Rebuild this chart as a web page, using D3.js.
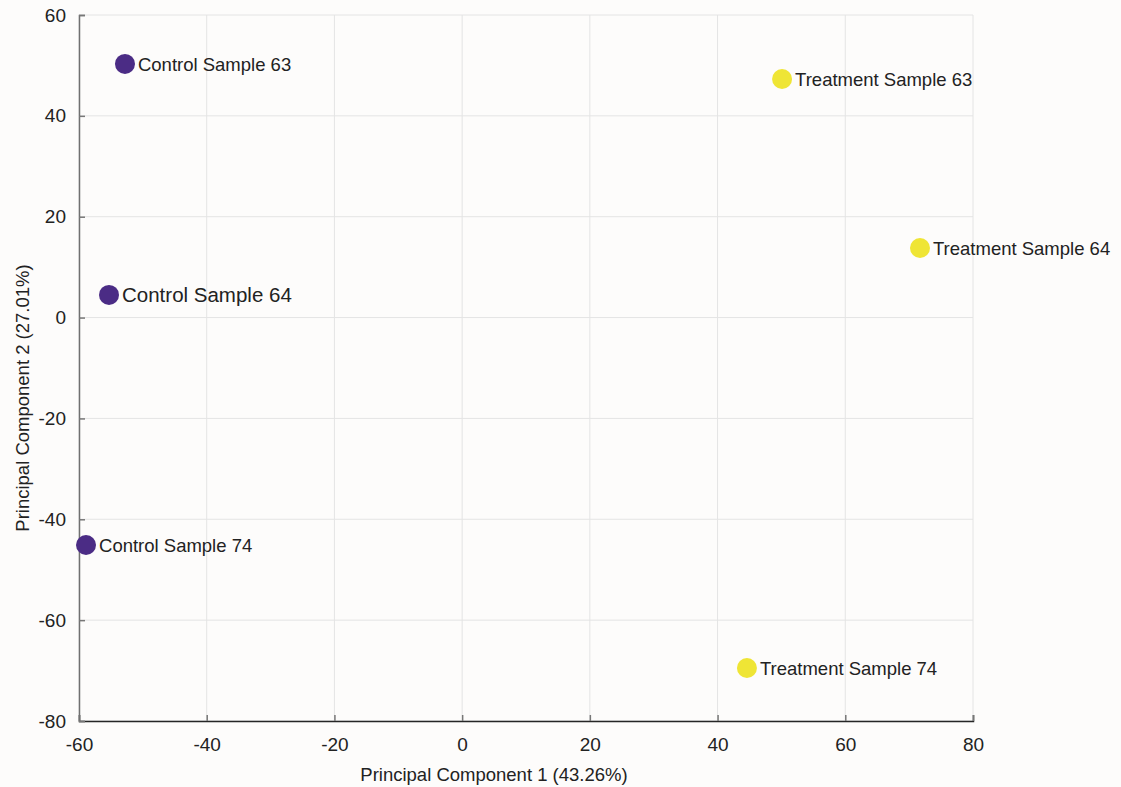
<!DOCTYPE html>
<html>
<head>
<meta charset="utf-8">
<script src="https://cdn.jsdelivr.net/npm/d3@7"></script>
<style>
  body { margin: 0; background: #fdfcfb; }
  svg { display: block; font-family: "Liberation Sans", Arial, sans-serif; }
</style>
</head>
<body>
<svg id="chart" width="1121" height="787"></svg>
<script>
// PCA scores per sample
const sampleNames = ["Control Sample 63", "Control Sample 64", "Control Sample 74",
                     "Treatment Sample 63", "Treatment Sample 64", "Treatment Sample 74"];
const groups = ["Control", "Control", "Control", "Treatment", "Treatment", "Treatment"];
const pc1 = [-52.8, -55.3, -58.9, 50.1, 71.7, 44.6];
const pc2 = [50.3, 4.5, -45.1, 47.3, 13.8, -69.5];
const labelSizes = [18.5, 20.5, 18.5, 18.5, 18.5, 18.5];
const xTicks = [-60, -40, -20, 0, 20, 40, 60, 80];
const yTicks = [-80, -60, -40, -20, 0, 20, 40, 60];
const groupColors = { Control: "#4b2c85", Treatment: "#efe535" };

const svg = d3.select("#chart");
const margin = { left: 79, right: 148, top: 15, bottom: 66 };
const W = 1121, H = 787;

const x = d3.scaleLinear().domain([-60, 80]).range([margin.left, W - margin.right]);
const y = d3.scaleLinear().domain([-80, 60]).range([H - margin.bottom, margin.top]);
const fmt = d => String(d);  // plain hyphen-minus

// grid
const grid = svg.append("g");
grid.selectAll("line.vx").data(xTicks).join("line")
  .attr("x1", d => x(d)).attr("x2", d => x(d))
  .attr("y1", y(-80)).attr("y2", y(60))
  .attr("stroke", "#e4e4e4").attr("stroke-width", 1);
grid.selectAll("line.hy").data(yTicks).join("line")
  .attr("y1", d => y(d)).attr("y2", d => y(d))
  .attr("x1", x(-60)).attr("x2", x(80))
  .attr("stroke", "#e4e4e4").attr("stroke-width", 1);

// axes with inward ticks
const xAxis = svg.append("g").attr("transform", `translate(0,${y(-80)})`)
  .call(d3.axisBottom(x).tickValues(xTicks).tickFormat(fmt).tickSize(-6).tickPadding(17));
const yAxis = svg.append("g").attr("transform", `translate(${x(-60)},0)`)
  .call(d3.axisLeft(y).tickValues(yTicks).tickFormat(fmt).tickSize(-6).tickPadding(13));

xAxis.select(".domain").attr("stroke", "#262626").attr("stroke-width", 1.5);
yAxis.select(".domain").attr("stroke", "#707070").attr("stroke-width", 1.5);
[xAxis, yAxis].forEach(a => {
  a.selectAll(".tick line").attr("stroke", "#777").attr("stroke-width", 1.5);
  a.selectAll(".tick text").attr("font-size", 19).attr("fill", "#222")
    .attr("font-family", "Liberation Sans, Arial, sans-serif");
});

// axis titles
svg.append("text")
  .attr("x", 494).attr("y", 781)
  .attr("text-anchor", "middle").attr("font-size", 18.5).attr("fill", "#222")
  .text("Principal Component 1 (43.26%)");
svg.append("text")
  .attr("transform", "translate(29,398) rotate(-90)")
  .attr("text-anchor", "middle").attr("font-size", 18.5).attr("fill", "#222")
  .text("Principal Component 2 (27.01%)");

// points and labels
const data = sampleNames.map((n, i) => ({ name: n, group: groups[i], x: pc1[i], y: pc2[i], size: labelSizes[i] }));
const pts = svg.append("g").selectAll("g").data(data).join("g");
pts.append("circle")
  .attr("cx", d => x(d.x)).attr("cy", d => y(d.y)).attr("r", 10)
  .attr("fill", d => groupColors[d.group]);
pts.append("text")
  .attr("x", d => x(d.x) + 13).attr("y", d => y(d.y))
  .attr("dy", "0.36em")
  .attr("font-size", d => d.size).attr("fill", "#222")
  .text(d => d.name);
</script>
</body>
</html>
